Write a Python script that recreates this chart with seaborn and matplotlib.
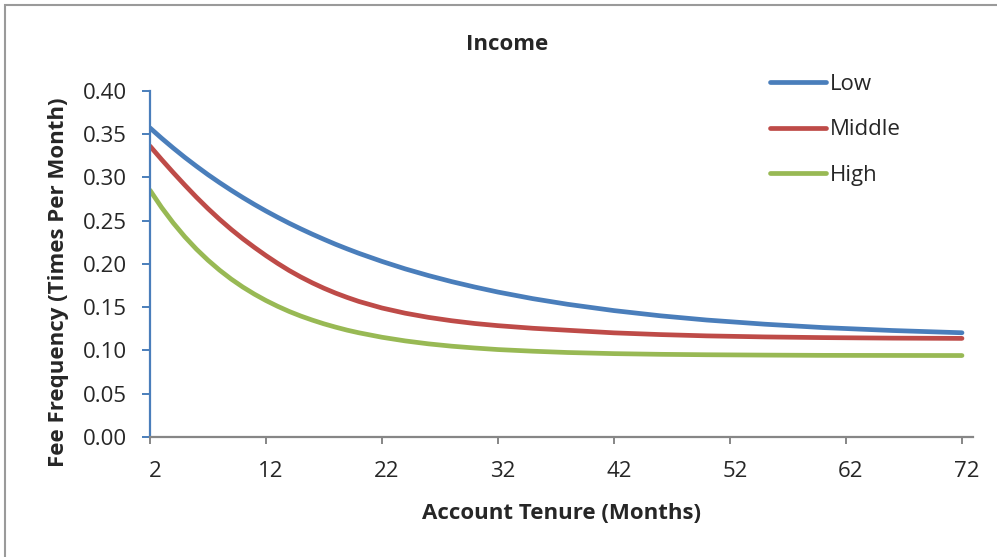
import matplotlib
matplotlib.use("Agg")
import matplotlib.pyplot as plt
import matplotlib.transforms as mtransforms
from matplotlib.patches import Rectangle
import pandas as pd
import seaborn as sns

# Account tenure (months) and fee frequency per income group
months = [2, 3, 4, 5, 6, 7, 8, 9, 10, 11, 12, 13, 14, 15, 16, 17, 18, 19, 20,
          22, 24, 26, 28, 30, 32, 35, 38, 42, 46, 50, 55, 60, 66, 72]
low = [0.3570, 0.3451, 0.3338, 0.3230, 0.3128, 0.3030, 0.2938, 0.2850, 0.2766, 0.2686,
       0.2610, 0.2538, 0.2469, 0.2404, 0.2342, 0.2283, 0.2226, 0.2173, 0.2122, 0.2028,
       0.1942, 0.1865, 0.1795, 0.1732, 0.1674, 0.1598, 0.1533, 0.1460, 0.1400, 0.1351,
       0.1303, 0.1264, 0.1230, 0.1204]
middle = [0.3360, 0.3205, 0.3055, 0.2910, 0.2770, 0.2638, 0.2514, 0.2398, 0.2290, 0.2190,
          0.2095, 0.2006, 0.1923, 0.1848, 0.1780, 0.1718, 0.1662, 0.1612, 0.1566, 0.1490,
          0.1430, 0.1382, 0.1343, 0.1311, 0.1286, 0.1256, 0.1233, 0.1203, 0.1183, 0.1168,
          0.1156, 0.1148, 0.1142, 0.1139]
high = [0.2850, 0.2651, 0.2473, 0.2313, 0.2170, 0.2042, 0.1927, 0.1824, 0.1732, 0.1650,
        0.1576, 0.1510, 0.1450, 0.1397, 0.1350, 0.1307, 0.1269, 0.1234, 0.1204, 0.1152,
        0.1110, 0.1076, 0.1049, 0.1028, 0.1010, 0.0991, 0.0976, 0.0963, 0.0955, 0.0950,
        0.0946, 0.0943, 0.0942, 0.0941]

groups = ["Low", "Middle", "High"]
colors = ["#4A7EBB", "#BE4B48", "#98B954"]
x_ticks = [2, 12, 22, 32, 42, 52, 62, 72]
y_ticks = [0.00, 0.05, 0.10, 0.15, 0.20, 0.25, 0.30, 0.35, 0.40]

df = pd.DataFrame({
    "month": months * 3,
    "freq": low + middle + high,
    "group": ["Low"] * len(months) + ["Middle"] * len(months) + ["High"] * len(months),
})

sns.set_style("white")
plt.rcParams["font.family"] = ["Open Sans", "DejaVu Sans"]

W, H = 997, 557
fig = plt.figure(figsize=(W / 100, H / 100), dpi=100)
ax = fig.add_axes([150 / W, 1 - 437 / H, (973 - 150) / W, (437 - 90.7) / H])

sns.lineplot(data=df, x="month", y="freq", hue="group", hue_order=groups,
             palette=colors, linewidth=3.4, legend=False, ax=ax)
for ln in ax.lines:
    ln.set_solid_capstyle("round")
    ln.set_solid_joinstyle("round")

ax.set_xlim(2, 72.95)
ax.set_ylim(0, 0.40)
ax.set_xticks(x_ticks)
ax.set_xticklabels([str(t) for t in x_ticks])
ax.set_yticks(y_ticks)
ax.set_yticklabels([f"{t:.2f}" for t in y_ticks])

for s in ["top", "right"]:
    ax.spines[s].set_visible(False)
ax.spines["left"].set_color("#4A7EBB")
ax.spines["left"].set_linewidth(1.6)
ax.spines["bottom"].set_color("#868686")
ax.spines["bottom"].set_linewidth(1.6)

ax.tick_params(axis="y", direction="out", length=6, width=1.4, color="#4A7EBB",
               labelsize=16, pad=10.5, left=True)
ax.tick_params(axis="x", direction="out", length=5, width=1.4, color="#868686",
               labelsize=16, pad=12, bottom=True)
shift = mtransforms.ScaledTranslation(5 / 100, 0, fig.dpi_scale_trans)
for lbl in ax.get_xticklabels():
    lbl.set_transform(lbl.get_transform() + shift)

ax.set_xlabel("Account Tenure (Months)", fontsize=16, fontweight="bold", labelpad=15.5)
ax.set_ylabel("Fee Frequency (Times Per Month)", fontsize=16, fontweight="bold")
ax.yaxis.set_label_coords(-0.099, 0.448)
fig.text(507 / W, 1 - 44 / H, "Income", ha="center", va="center",
         fontsize=16, fontweight="bold")

ax.legend(handles=ax.lines, labels=groups, loc="upper left",
          bbox_to_anchor=(770 / W, 1 - 74 / H), bbox_transform=fig.transFigure,
          frameon=False, fontsize=16, handlelength=2.5, handletextpad=0.2,
          labelspacing=1.1, borderpad=0, borderaxespad=0)

# outer chart frame
fig.patches.append(Rectangle((5 / W, -0.05), 1.2, 1 - 5 / H + 0.05, transform=fig.transFigure,
                             fill=False, edgecolor="#9a9a9a", linewidth=1.5))

fig.savefig("out.png", dpi=100)
